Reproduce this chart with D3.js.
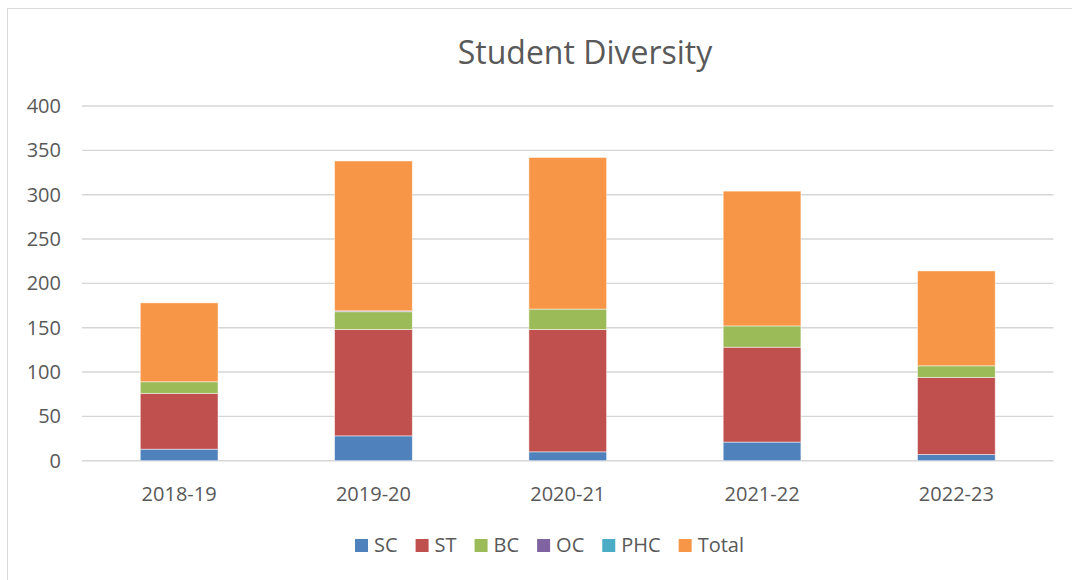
<!DOCTYPE html>
<html>
<head>
<meta charset="utf-8">
<script src="https://cdn.jsdelivr.net/npm/d3@7"></script>
<style>
  html, body { margin: 0; padding: 0; background: #fff; }
  svg { display: block; }
  text { font-family: "Open Sans", "Noto Sans", sans-serif; fill: #595959; }
</style>
</head>
<body>
<svg id="chart" width="1072" height="580"></svg>
<script>
// ---- data ----
const categories = ["2018-19", "2019-20", "2020-21", "2021-22", "2022-23"];
const seriesNames = ["SC", "ST", "BC", "OC", "PHC", "Total"];
const SC    = [13, 28, 10, 21, 7];
const ST    = [63, 120, 138, 107, 87];
const BC    = [13, 20, 23, 24, 13];
const OC    = [0, 1, 0, 0, 0];
const PHC   = [0, 0, 0, 0, 0];
const Total = [89, 169, 171, 152, 107];
const yTicks = [0, 50, 100, 150, 200, 250, 300, 350, 400];
const colors = ["#4F81BD", "#C0504D", "#9BBB59", "#8064A2", "#4BACC6", "#F79646"];
const title = "Student Diversity";

const seriesValues = [SC, ST, BC, OC, PHC, Total];
const table = categories.map((c, i) => {
  const row = { cat: c };
  seriesNames.forEach((s, k) => row[s] = seriesValues[k][i]);
  return row;
});

const svg = d3.select("#chart");

// chart border
svg.append("rect")
  .attr("x", 7.5).attr("y", 8.5)
  .attr("width", 1200).attr("height", 700)
  .attr("fill", "#fff").attr("stroke", "#d9d9d9").attr("stroke-width", 1);

const plot = { left: 82, right: 1053.5, top: 106, bottom: 460.7 };

const x = d3.scaleBand().domain(categories)
  .range([plot.left, plot.right]).paddingInner(0.6).paddingOuter(0.3);
const y = d3.scaleLinear().domain([0, 400]).range([plot.bottom, plot.top]);

// title
svg.append("text")
  .attr("x", 585).attr("y", 64)
  .attr("text-anchor", "middle")
  .style("font-size", "32px")
  .text(title);

// gridlines
svg.append("g").selectAll("line").data(yTicks).join("line")
  .attr("x1", plot.left).attr("x2", plot.right)
  .attr("y1", d => y(d)).attr("y2", d => y(d))
  .attr("stroke", "#d6d6d6").attr("stroke-width", 1.4);

// y axis labels
const yAxis = d3.axisLeft(y).tickValues(yTicks).tickSize(0).tickPadding(0);
const gy = svg.append("g").attr("transform", "translate(61,0)").call(yAxis);
gy.select(".domain").remove();
gy.selectAll("text").style("font-size", "20px").attr("fill", "#595959")
  .style("font-family", "'Open Sans', sans-serif");

// x axis labels
const xAxis = d3.axisBottom(x).tickSize(0).tickPadding(0);
const gx = svg.append("g").attr("transform", `translate(0,${plot.bottom})`).call(xAxis);
gx.select(".domain").remove();
gx.selectAll("text").style("font-size", "20px").attr("fill", "#595959")
  .style("font-family", "'Open Sans', sans-serif")
  .attr("dy", null).attr("y", 40);

// stacked bars
const stack = d3.stack().keys(seriesNames);
const stacked = stack(table);
svg.append("g").selectAll("g").data(stacked).join("g")
  .attr("fill", (d, i) => colors[i])
  .selectAll("rect").data(d => d.map(v => ({ v, cat: v.data.cat }))).join("rect")
  .filter(d => d.v[1] - d.v[0] > 0)
  .attr("x", d => x(d.cat))
  .attr("width", x.bandwidth())
  .attr("y", d => y(d.v[1]))
  .attr("height", d => y(d.v[0]) - y(d.v[1]))
  .attr("stroke", "#ffffff").attr("stroke-opacity", 0.6).attr("stroke-width", 0.8);

// legend
const legend = svg.append("g");
let cx = 0;
seriesNames.forEach((name, i) => {
  const g = legend.append("g");
  g.append("rect").attr("x", 0).attr("y", -13).attr("width", 13).attr("height", 13).attr("fill", colors[i]);
  const t = g.append("text").attr("x", 19).attr("y", 0).style("font-size", "20px").text(name);
  const w = t.node().getComputedTextLength();
  g.attr("transform", `translate(${cx},0)`);
  cx += 19 + w + 18;
});
const totalW = cx - 18;
legend.attr("transform", `translate(${549.5 - totalW / 2},552)`);
</script>
</body>
</html>
